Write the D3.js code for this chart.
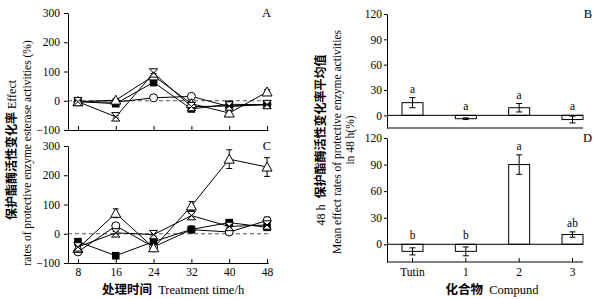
<!DOCTYPE html>
<html>
<head>
<meta charset="utf-8">
<script src="https://cdn.jsdelivr.net/npm/d3@7/dist/d3.min.js"></script>
<style>
  body { margin: 0; background: #fff; }
  svg text { font-family: "Liberation Serif", "Noto Sans CJK SC", serif; fill: #000; }
  .cjk { font-family: "Noto Sans CJK SC", sans-serif; font-weight: 600; }
</style>
</head>
<body>
<svg id="chart" width="596" height="299"></svg>
<script>
// time points (h)
var hours = [8, 16, 24, 32, 40, 48];
var markers = ['circle', 'square', 'triangle', 'hourglass'];

// panel A
var aCircle   = [-3, -5, 10, 15, -20, -12];
var aSquare   = [-3, -10, 63, -28, -12, -14];
var aTriangle = [-3, 2, 85, -10, -42, 30];
var aHour     = [-3, -55, 95, -20, -18, -13];
var aErr = [[3, 4, 5, 8, 5, 4], [3, 4, 12, 5, 5, 3], [3, 4, 8, 5, 6, 8], [3, 4, 12, 5, 5, 3]];

// panel C
var cCircle   = [-62, 27, -45, 14, 6, 45];
var cSquare   = [-27, -75, -27, 15, 38, 22];
var cTriangle = [-50, 70, -48, 95, 255, 228];
var cHour     = [-45, 3, -3, 62, 25, 30];
var cErr = [[5, 8, 5, 4, 6, 12], [5, 5, 8, 4, 6, 8], [5, 15, 6, 15, 32, 32], [5, 5, 5, 8, 5, 5]];

// panels B and D
var compounds = ['Tutin', '1', '2', '3'];
var meanB = [15, -4, 9, -5];
var errB  = [6, 1, 5, 4];
var letB  = ['a', 'a', 'a', 'a'];
var meanD = [-8, -8, 90, 11];
var errD  = [4, 5, 11, 3];
var letD  = ['b', 'b', 'a', 'ab'];

var svg = d3.select('#chart');

var x = d3.scaleLinear().domain([5.9, 48.2]).range([68, 268]);
var yA = d3.scaleLinear().domain([-100, 300]).range([130, 13]);
var yC = d3.scaleLinear().domain([-100, 300]).range([263, 146]);

var xb = d3.scalePoint().domain(compounds).range([412.5, 572.5]);
var yB = d3.scaleLinear().domain([-15, 120]).range([128, 14]);
var yD = d3.scaleLinear().domain([-20, 120]).range([262, 138]);

function symbol(g, type) {
  if (type == 'circle') {
    g.append('circle').attr('r', 4).attr('fill', '#fff').attr('stroke', '#000');
  } else if (type == 'square') {
    g.append('rect').attr('x', -3.8).attr('y', -3.8).attr('width', 7.6).attr('height', 7.6).attr('fill', '#000');
  } else if (type == 'triangle') {
    g.append('path').attr('d', 'M0,-5L5,4L-5,4Z').attr('fill', '#fff').attr('stroke', '#000');
  } else {
    g.append('path').attr('d', 'M-4.2,-4.2L4.2,-4.2L-4.2,4.2L4.2,4.2Z').attr('fill', '#fff').attr('stroke', '#000');
  }
}

function errPath(cx, y, v, e) {
  return 'M' + (cx - 3) + ',' + y(v + e) + 'H' + (cx + 3) +
         'M' + cx + ',' + y(v + e) + 'V' + y(v - e) +
         'M' + (cx - 3) + ',' + y(v - e) + 'H' + (cx + 3);
}

function linePanel(y, seriesList, errs, letter, showLabels) {
  var g = svg.append('g');
  // dashed zero line
  g.append('line')
    .attr('x1', 68).attr('x2', 268)
    .attr('y1', y(0)).attr('y2', y(0))
    .attr('stroke', '#555').attr('stroke-dasharray', '4,3').attr('stroke-width', 1);

  g.append('g')
    .attr('transform', 'translate(68,0)')
    .call(d3.axisLeft(y).tickValues([-100, 0, 100, 200, 300]).tickSize(4).tickPadding(4).tickSizeOuter(0))
    .call(s => s.selectAll('text').attr('font-size', 11.5));

  var xa = g.append('g')
    .attr('transform', 'translate(0,' + y.range()[0] + ')')
    .call(d3.axisBottom(x).tickValues(hours).tickSize(-4).tickPadding(5).tickSizeOuter(0));
  xa.selectAll('text').attr('font-size', 11.5);
  if (!showLabels) xa.selectAll('text').remove();

  var line = d3.line().x((d, i) => x(hours[i])).y(d => y(d));
  seriesList.forEach(function(vals) {
    g.append('path').datum(vals)
      .attr('fill', 'none').attr('stroke', '#000').attr('stroke-width', 1)
      .attr('d', line);
  });
  seriesList.forEach(function(vals, k) {
    vals.forEach(function(v, i) {
      g.append('path').attr('d', errPath(x(hours[i]), y, v, errs[k][i]))
        .attr('stroke', '#000').attr('fill', 'none');
    });
  });
  seriesList.forEach(function(vals, k) {
    vals.forEach(function(v, i) {
      var m = g.append('g').attr('transform', 'translate(' + x(hours[i]) + ',' + y(v) + ')');
      symbol(m, markers[k]);
    });
  });
  g.append('text').attr('x', 271).attr('y', y.range()[1] + 4)
    .attr('text-anchor', 'end').attr('font-size', 12.5).text(letter);
}

linePanel(yA, [aCircle, aSquare, aTriangle, aHour], aErr, 'A', false);
linePanel(yC, [cCircle, cSquare, cTriangle, cHour], cErr, 'C', true);

function barPanel(y, means, errs, lets, letter, showLabels) {
  var g = svg.append('g');
  g.append('g')
    .attr('transform', 'translate(387,0)')
    .call(d3.axisLeft(y).tickValues([0, 30, 60, 90, 120]).tickSize(3).tickPadding(2).tickSizeOuter(0))
    .call(s => s.selectAll('text').attr('font-size', 11.5));

  g.append('line').attr('x1', 387).attr('x2', 583)
    .attr('y1', y.range()[0]).attr('y2', y.range()[0]).attr('stroke', '#000');
  if (showLabels) {
    compounds.forEach(function(c) {
      g.append('line').attr('x1', xb(c)).attr('x2', xb(c))
        .attr('y1', y.range()[0]).attr('y2', y.range()[0] - 4).attr('stroke', '#000');
      g.append('text').attr('x', xb(c)).attr('y', y.range()[0] + 14)
        .attr('text-anchor', 'middle').attr('font-size', 11.5).text(c);
    });
  }
  var bw = 21;
  compounds.forEach(function(c, i) {
    var v = means[i], e = errs[i], cx = xb(c);
    g.append('rect')
      .attr('x', cx - bw / 2).attr('width', bw)
      .attr('y', Math.min(y(v), y(0))).attr('height', Math.abs(y(v) - y(0)))
      .attr('fill', '#fff').attr('stroke', '#000');
    g.append('path').attr('d', errPath(cx, y, v, e))
      .attr('stroke', '#000').attr('fill', 'none');
    var top = Math.max(v + e, 0);
    g.append('text').attr('x', cx).attr('y', y(top) - 5)
      .attr('text-anchor', 'middle').attr('font-size', 11.5).text(lets[i]);
  });
  g.append('line').attr('x1', 387).attr('x2', 583)
    .attr('y1', y(0)).attr('y2', y(0)).attr('stroke', '#000');
  g.append('text').attr('x', 592).attr('y', y.range()[1] + 4)
    .attr('text-anchor', 'end').attr('font-size', 12.5).text(letter);
}

barPanel(yB, meanB, errB, letB, 'B', false);
barPanel(yD, meanD, errD, letD, 'D', true);

// axis titles (Chinese part in a heavier CJK face)
function title(x0, y0, rot, size, cn, en, cnFirst) {
  var t = svg.append('text')
    .attr('transform', 'translate(' + x0 + ',' + y0 + ')' + (rot ? ' rotate(-90)' : ''))
    .attr('text-anchor', 'middle').attr('font-size', size);
  if (cnFirst) {
    t.append('tspan').attr('class', 'cjk').text(cn);
    t.append('tspan').text('\u00a0' + en);
  } else {
    t.append('tspan').text(en + '\u00a0');
    t.append('tspan').attr('class', 'cjk').text(cn);
  }
}

title(16, 150, true, 12, '保护酯酶活性变化率', 'Effect', true);
svg.append('text').attr('transform', 'translate(31,153) rotate(-90)')
  .attr('text-anchor', 'middle').attr('font-size', 11.5).text('rates of protective enzyme esterase activities (%)');

title(325, 140, true, 12, '保护酯酶活性变化率平均值', '48 h\u00a0', false);
svg.append('text').attr('transform', 'translate(341,142) rotate(-90)')
  .attr('text-anchor', 'middle').attr('font-size', 11.5).text('Mean effect rates of protective enzyme activities');
svg.append('text').attr('transform', 'translate(354,140) rotate(-90)')
  .attr('text-anchor', 'middle').attr('font-size', 11.5).text('in 48 h(%)');

title(173, 294, false, 12.5, '处理时间', '\u00a0Treatment time/h', true);
title(492, 294, false, 12.5, '化合物', '\u00a0Compund', true);
</script>
</body>
</html>
